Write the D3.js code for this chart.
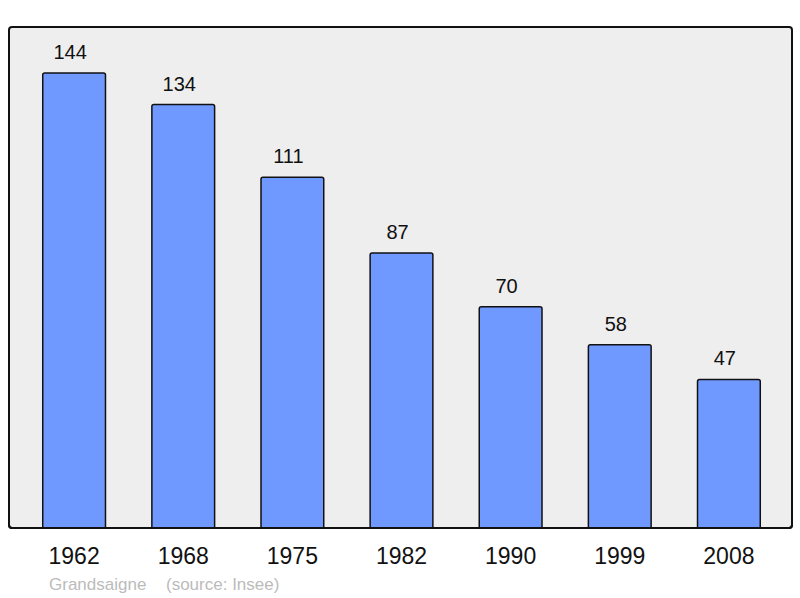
<!DOCTYPE html>
<meta charset="utf-8">
<style>
body { margin: 0; background: #fff; }
text { font-family: "Liberation Sans", Arial, sans-serif; }
.val { font-size: 20px; fill: #111; text-anchor: middle; }
.year { font-size: 23px; fill: #111; text-anchor: middle; }
.credit { font-size: 17px; fill: #bbb; }
</style>
<svg width="800" height="598"></svg>
<script src="https://cdn.jsdelivr.net/npm/d3@7"></script>
<script>

var years = ["1962", "1968", "1975", "1982", "1990", "1999", "2008"];
var population = [144, 134, 111, 87, 70, 58, 47];

var svg = d3.select("svg"),
    panel = {left: 9, top: 27, right: 792, bottom: 528};

var x = d3.scaleBand()
    .domain(years)
    .range([panel.left + 1, panel.right + 1])
    .paddingInner(0.425)
    .paddingOuter(0.3);

// 0 sits on the bottom of the frame
var y = d3.scaleLinear()
    .domain([0, 144])
    .range([panel.bottom, 73]);

svg.append("rect")
    .attr("x", panel.left)
    .attr("y", panel.top)
    .attr("width", panel.right - panel.left)
    .attr("height", panel.bottom - panel.top)
    .attr("rx", 3)
    .style("fill", "#eeeeee");

var bars = svg.append("g");

bars.selectAll("rect")
    .data(population)
  .enter().append("rect")
    .attr("x", function(d, i) { return x(years[i]); })
    .attr("y", function(d) { return y(d); })
    .attr("width", x.bandwidth())
    .attr("height", function(d) { return y(0) - y(d) + 3; })
    .attr("rx", 2)
    .style("fill", "#7099ff")
    .style("stroke", "#111")
    .style("stroke-width", 1.5);

// value labels sit a little left of the bar centre in the original
bars.selectAll("text")
    .data(population)
  .enter().append("text")
    .attr("class", "val")
    .attr("x", function(d, i) { return x(years[i]) + x.bandwidth() / 2 - 4; })
    .attr("y", function(d) { return y(d) - 14; })
    .text(function(d) { return d; });

// frame drawn over bar bottoms
svg.append("rect")
    .attr("x", panel.left)
    .attr("y", panel.top)
    .attr("width", panel.right - panel.left)
    .attr("height", panel.bottom - panel.top)
    .attr("rx", 3)
    .style("fill", "none")
    .style("stroke", "#111")
    .style("stroke-width", 2);

svg.append("rect")
    .attr("x", panel.left - 2)
    .attr("y", panel.bottom + 1)
    .attr("width", panel.right - panel.left + 4)
    .attr("height", 6)
    .style("fill", "#fff");

svg.append("path")
    .attr("d", "M" + panel.left + "," + (panel.bottom - 3) + "Q" + panel.left + "," + panel.bottom + " " + (panel.left + 3) + "," + panel.bottom +
               "L" + (panel.right - 3) + "," + panel.bottom + "Q" + panel.right + "," + panel.bottom + " " + panel.right + "," + (panel.bottom - 3))
    .style("fill", "none")
    .style("stroke", "#111")
    .style("stroke-width", 2);

svg.append("g").selectAll("text")
    .data(years)
  .enter().append("text")
    .attr("class", "year")
    .attr("x", function(d) { return x(d) + x.bandwidth() / 2; })
    .attr("y", 564)
    .text(function(d) { return d; });

svg.append("text").attr("class", "credit").attr("x", 49).attr("y", 590).text("Grandsaigne");
svg.append("text").attr("class", "credit").attr("x", 166).attr("y", 590).text("(source: Insee)");

</script>
